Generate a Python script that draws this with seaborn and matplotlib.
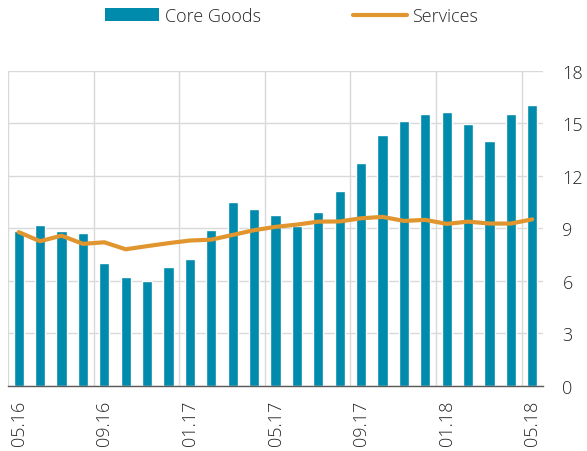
import numpy as np
import pandas as pd
import matplotlib
matplotlib.use("Agg")
import matplotlib.pyplot as plt
import seaborn as sns
from matplotlib.patches import Patch
from matplotlib.lines import Line2D

months = ["05.16", "06.16", "07.16", "08.16", "09.16", "10.16", "11.16", "12.16",
          "01.17", "02.17", "03.17", "04.17", "05.17", "06.17", "07.17", "08.17",
          "09.17", "10.17", "11.17", "12.17", "01.18", "02.18", "03.18", "04.18", "05.18"]
core_goods = [8.86, 9.18, 8.86, 8.73, 7.01, 6.19, 5.96, 6.80, 7.22, 8.88, 10.50, 10.08, 9.77,
              9.14, 9.90, 11.13, 12.74, 14.34, 15.10, 15.50, 15.64, 14.97, 13.98, 15.50, 16.04]
services = [8.77, 8.25, 8.57, 8.10, 8.19, 7.79, 7.97, 8.14, 8.29, 8.34, 8.61, 8.88, 9.07,
            9.20, 9.37, 9.38, 9.56, 9.64, 9.41, 9.47, 9.24, 9.37, 9.26, 9.26, 9.50]
y_ticks = [0, 3, 6, 9, 12, 15, 18]

bar_color = "#008AAB"
line_color = "#E0952F"
text_color = "#262626"
grid_color = "#D9D9D9"

sns.set_style("white")
plt.rcParams['font.family'] = ['Open Sans', 'DejaVu Sans']
plt.rcParams['font.weight'] = 'light'

df = pd.DataFrame({"month": months, "core": core_goods, "services": services,
                   "pos": np.arange(len(months))})

fig = plt.figure(figsize=(5.87, 4.52), dpi=100)
ax = fig.add_axes([8/587, 1 - 386.7/452, (543-8)/587, (386.7-71.5)/452])

sns.barplot(data=df, x="month", y="core", order=months, color=bar_color,
            width=0.48, saturation=1, ax=ax, zorder=2)
sns.lineplot(data=df, x="pos", y="services", color=line_color, linewidth=3.0,
             ax=ax, zorder=3)

n = len(months)
ax.set_xlim(-0.5, n - 0.5)
ax.set_ylim(0, 18)
ax.set_yticks(y_ticks)
ax.yaxis.tick_right()
ax.tick_params(axis="y", length=0, pad=14, labelsize=13, labelcolor=text_color)
for lbl in ax.get_yticklabels():
    lbl.set_horizontalalignment("left")

label_pos = list(range(0, n, 4))
ax.set_xticks(label_pos)
ax.set_xticklabels([months[i] for i in label_pos], rotation=90)
ax.tick_params(axis="x", which="major", length=0, pad=10, labelsize=13,
               labelcolor=text_color)
ax.set_xticks([i - 0.5 for i in label_pos], minor=True)
ax.tick_params(axis="x", which="minor", length=6, width=1, color="#595959",
               direction="out")

ax.grid(axis="y", which="major", color=grid_color, linewidth=1, zorder=0)
ax.grid(axis="x", which="minor", color=grid_color, linewidth=1, zorder=0)
ax.grid(axis="x", which="major", visible=False)
ax.set_axisbelow(True)

for s in ["top", "right", "left"]:
    ax.spines[s].set_visible(False)
ax.spines["bottom"].set_color("#595959")
ax.spines["bottom"].set_linewidth(1)

ax.set_xlabel("")
ax.set_ylabel("")
if ax.get_legend():
    ax.get_legend().remove()

handles = [Patch(facecolor=bar_color, edgecolor="none", label="Core Goods"),
           Line2D([0], [0], color=line_color, linewidth=3.0, label="Services")]
fig.legend(handles=handles, loc="center", bbox_to_anchor=(291.5/587, 1 - 17/452),
           ncol=2, frameon=False, fontsize=13, handlelength=3.0, handletextpad=0.3,
           columnspacing=5.1, labelcolor=text_color)

fig.savefig("out.png", dpi=100)
